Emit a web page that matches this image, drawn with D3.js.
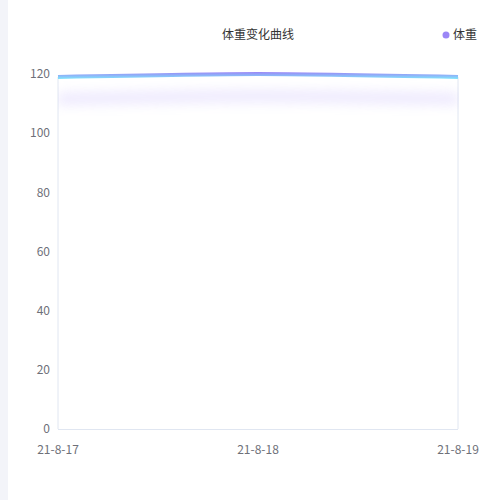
<!DOCTYPE html>
<html><head><meta charset="utf-8">
<script src="https://cdn.jsdelivr.net/npm/d3@7/dist/d3.min.js"></script>
<style>body{margin:0;background:#fff;}svg{display:block;}</style>
</head><body>
<svg id="c" width="500" height="500"></svg>
<script>
const dates = ["21-8-17", "21-8-18", "21-8-19"];
const weights = [119, 120, 119];
const yTicks = [0, 20, 40, 60, 80, 100, 120];
const title = "体重变化曲线";
const seriesName = "体重";

const svg = d3.select("#c");
const font = "'Noto Sans CJK SC','Noto Sans',sans-serif";
svg.append("rect").attr("x",0).attr("y",0).attr("width",8).attr("height",500).attr("fill","#f3f4f9");

const x = d3.scalePoint().domain(dates).range([58, 458]);
const y = d3.scaleLinear().domain([0, 120]).range([429, 74]);

const defs = svg.append("defs");
const lg = defs.append("linearGradient").attr("id","lg").attr("gradientUnits","userSpaceOnUse")
  .attr("x1",0).attr("x2",0).attr("y1",y(120)-2).attr("y2",y(119)+2);
lg.append("stop").attr("offset","0%").attr("stop-color","#9b86f6");
lg.append("stop").attr("offset","100%").attr("stop-color","#80e6fb");
const f = defs.append("filter").attr("id","sh").attr("filterUnits","userSpaceOnUse")
  .attr("x",0).attr("y",0).attr("width",500).attr("height",300);
f.append("feGaussianBlur").attr("stdDeviation",6);

// axes lines
const axisColor = "#e0e6f1";
svg.append("line").attr("x1",x(dates[0])).attr("x2",x(dates[0])).attr("y1",y(weights[0])).attr("y2",y(0)).attr("stroke",axisColor);
svg.append("line").attr("x1",x(dates[2])).attr("x2",x(dates[2])).attr("y1",y(weights[2])).attr("y2",y(0)).attr("stroke",axisColor);
svg.append("line").attr("x1",x(dates[0])).attr("x2",x(dates[2])).attr("y1",y(0)+0.5).attr("y2",y(0)+0.5).attr("stroke",axisColor);

// y tick labels
svg.append("g").selectAll("text").data(yTicks).join("text")
  .attr("x",50).attr("y",d=>y(d)).attr("dy","0.35em").attr("text-anchor","end")
  .attr("font-size",12).attr("font-family",font).attr("fill","#6e7079").text(d=>d);
// x tick labels
svg.append("g").selectAll("text").data(dates).join("text")
  .attr("x",d=>x(d)).attr("y",450).attr("dy","0.35em").attr("text-anchor","middle")
  .attr("font-size",12).attr("font-family",font).attr("fill","#6e7079").text(d=>d);

const line = d3.line().x((d,i)=>x(dates[i])).y(d=>y(d)).curve(d3.curveCardinal.tension(0.3));
const clip = defs.append("clipPath").attr("id","cp");
clip.append("rect").attr("x",58).attr("y",y(weights[1])+6).attr("width",401).attr("height",300);
// shadow
svg.append("g").attr("clip-path","url(#cp)").append("path").datum(weights).attr("d",line)
  .attr("transform","translate(0,22)").attr("fill","none").attr("stroke","#c4b6fb").attr("stroke-width",12)
  .attr("opacity",0.3).attr("filter","url(#sh)");
svg.append("path").datum(weights).attr("d",line).attr("fill","none")
  .attr("stroke","url(#lg)").attr("stroke-width",4);

svg.append("text").attr("x",258).attr("y",35).attr("dy","0.35em").attr("text-anchor","middle")
  .attr("font-size",12).attr("font-family",font).attr("fill","#333").text(title);
svg.append("circle").attr("cx",446).attr("cy",35).attr("r",3.5).attr("fill","#9b86f6");
svg.append("text").attr("x",453).attr("y",35).attr("dy","0.35em")
  .attr("font-size",12).attr("font-family",font).attr("fill","#333").text(seriesName);
</script>
</body></html>
